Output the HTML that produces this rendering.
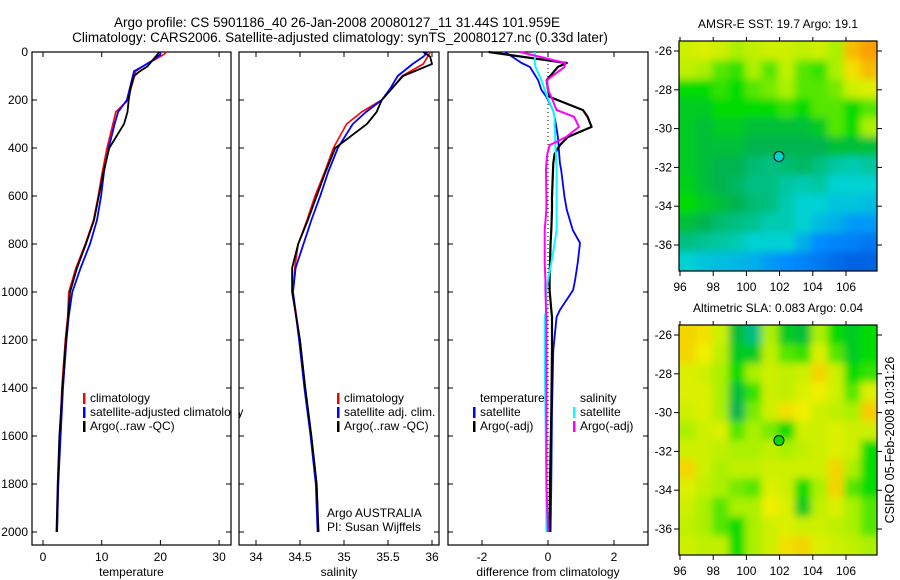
<!DOCTYPE html>
<html><head><meta charset="utf-8">
<style>
body{margin:0;background:#fff}
svg{display:block;font-family:"Liberation Sans",sans-serif}
text{fill:#000}
</style></head>
<body>
<svg id="fig" width="900" height="580" viewBox="0 0 900 580" xmlns="http://www.w3.org/2000/svg">
<defs><filter id="smooth" x="-10%" y="-10%" width="120%" height="120%"><feGaussianBlur stdDeviation="4"/></filter></defs>
<rect width="900" height="580" fill="#fff"/>
<text x="337" y="27" font-size="13.5" text-anchor="middle">Argo profile: CS 5901186_40 26-Jan-2008 20080127_11 31.44S 101.959E</text>
<text x="340" y="42" font-size="13.5" text-anchor="middle">Climatology: CARS2006. Satellite-adjusted climatology: synTS_20080127.nc (0.33d later)</text>
<g id="plots"></g>
<text transform="translate(894,440) rotate(-90)" font-size="12.5" text-anchor="middle">CSIRO 05-Feb-2008 10:31:26</text>
</svg>
<script>
// ---------- data ----------
const tDepth = [0,10,30,60,80,100,150,200,250,300,400,500,600,700,800,900,1000,1100,1200,1400,1600,1800,2000];
const tClim  = [21,20.6,19.2,17,15.8,15.6,15,14.5,12.4,11.9,10.9,10.1,9.4,8.6,7.2,5.6,4.4,4.2,3.8,3.2,2.9,2.6,2.4];
const tSat   = [20,20,19,17,15.5,15.3,14.8,14.3,12.8,12.2,11.2,10.4,9.9,9.2,8.0,6.4,5.0,4.4,4.0,3.4,3.0,2.6,2.4];
const tArgo  = [19.8,19.5,18.8,17.8,16.5,15.5,14.9,14.6,14.4,13.8,11.3,10.3,9.5,8.7,7.3,5.8,4.6,4.3,3.9,3.3,2.8,2.5,2.3];

const sDepth = [0,20,50,100,150,200,250,300,400,500,600,700,800,900,1000,1200,1400,1600,1800,2000];
const sClim  = [35.98,35.95,35.9,35.66,35.55,35.43,35.2,35.03,34.88,34.78,34.67,34.58,34.48,34.44,34.42,34.5,34.56,34.63,34.69,34.71];
const sSat   = [35.95,35.9,35.78,35.61,35.53,35.43,35.25,35.1,34.93,34.82,34.73,34.63,34.54,34.45,34.42,34.49,34.55,34.62,34.68,34.7];
const sArgo  = [35.9,35.98,36.0,35.67,35.55,35.43,35.37,35.26,34.9,34.79,34.69,34.59,34.48,34.41,34.41,34.5,34.56,34.63,34.69,34.71];

const dDepth    = [0,46,62,117,158,187,242,270,312,354,388,425,463,492,604,658,742,796,879,950,992,1075,1104,1242,1500,1800,2000];
const dTempSat  = [-1.3,-0.8,-0.55,-0.3,-0.2,-0.05,0.15,0.2,0.25,0.3,0.32,0.34,0.36,0.4,0.5,0.57,0.75,0.97,0.9,0.82,0.76,0.36,0.26,0.16,0.12,0.1,0.08];
const dTempArgo = [-1.8,0.57,0.3,-0.04,0.0,0.05,1.06,1.2,1.32,0.6,0.36,0.2,0.16,0.15,0.12,0.12,0.1,0.08,0.06,0.05,0.05,0.1,0.12,0.12,0.1,0.06,0.05];
const dSalSat   = [-0.4,-0.4,-0.38,-0.2,-0.1,-0.02,0.15,0.2,0.2,0.22,0.22,0.24,0.25,0.26,0.26,0.26,0.26,0.2,0.1,0.0,-0.05,-0.05,-0.1,-0.1,-0.08,-0.05,-0.05];
const dSalArgo  = [-0.85,0.52,0.5,-0.03,0.0,0.1,0.26,0.79,0.94,0.55,0.05,-0.02,-0.05,-0.06,-0.05,-0.05,-0.1,-0.1,-0.1,-0.08,-0.08,-0.06,-0.05,-0.05,-0.05,-0.05,0.0];

const depthTicks = [0,200,400,600,800,1000,1200,1400,1600,1800,2000];
const tTicks = [0,10,20,30];
const sTicks = [34,34.5,35,35.5,36];
const dTicks = [-2,0,2];
const lonTicks = [96,98,100,102,104,106];
const latTicks = [26,28,30,32,34,36];

const sstGrid = [
[0.6,0.62,0.6,0.55,0.58,0.6,0.6,0.58,0.6,0.55,0.75,0.8],
[0.58,0.55,0.5,0.48,0.55,0.5,0.58,0.5,0.48,0.55,0.68,0.75],
[0.45,0.45,0.48,0.45,0.5,0.52,0.55,0.5,0.5,0.52,0.6,0.62],
[0.42,0.42,0.45,0.45,0.45,0.45,0.48,0.45,0.5,0.5,0.45,0.5],
[0.42,0.4,0.42,0.42,0.4,0.4,0.4,0.4,0.42,0.5,0.45,0.55],
[0.42,0.4,0.4,0.4,0.38,0.38,0.38,0.38,0.38,0.4,0.4,0.4],
[0.42,0.4,0.38,0.38,0.36,0.35,0.36,0.37,0.35,0.33,0.32,0.33],
[0.43,0.4,0.38,0.37,0.35,0.35,0.33,0.32,0.33,0.3,0.3,0.3],
[0.45,0.42,0.4,0.38,0.36,0.35,0.32,0.3,0.3,0.28,0.28,0.27],
[0.4,0.38,0.36,0.35,0.34,0.32,0.32,0.3,0.27,0.25,0.22,0.22],
[0.35,0.34,0.33,0.32,0.3,0.3,0.3,0.25,0.2,0.18,0.17,0.15],
[0.3,0.28,0.27,0.26,0.25,0.22,0.2,0.18,0.15,0.12,0.1,0.1]];
const slaGrid = [
[.7,.68,.6,.4,.35,.55,.42,.4,.55,.45,.42,.45],
[.7,.65,.58,.42,.42,.58,.5,.48,.62,.5,.42,.45],
[.62,.6,.55,.45,.55,.6,.58,.6,.7,.6,.45,.48],
[.62,.62,.55,.4,.48,.6,.58,.62,.65,.6,.5,.62],
[.6,.62,.55,.38,.52,.6,.68,.65,.6,.58,.55,.72],
[.55,.6,.62,.5,.55,.52,.45,.6,.6,.62,.6,.6],
[.6,.6,.58,.55,.55,.58,.55,.58,.6,.62,.6,.45],
[.7,.6,.55,.58,.58,.6,.6,.6,.6,.7,.55,.45],
[.62,.58,.55,.52,.5,.62,.6,.45,.55,.7,.5,.45],
[.6,.55,.5,.55,.55,.65,.62,.42,.58,.62,.55,.5],
[.58,.55,.5,.45,.55,.6,.62,.6,.6,.58,.55,.5],
[.6,.58,.58,.45,.55,.6,.68,.7,.62,.6,.58,.55]];
const argoLon = 101.959, argoLat = 31.44;
const sstArgoVal = 0.3, slaArgoVal = 0.45;

// ---------- drawing ----------
const NS = "http://www.w3.org/2000/svg";
const root = document.getElementById('plots');
function mk(tag, attrs, parent){ const e=document.createElementNS(NS,tag); for(const k in attrs) e.setAttribute(k,attrs[k]); (parent||root).appendChild(e); return e; }
function txt(x,y,s,size,anchor,parent){ const t=mk('text',{x:x,y:y,'font-size':size||12,'text-anchor':anchor||'middle'},parent); t.textContent=s; return t; }

const yD = d => 52 + d*0.24;
function profilePanel(name, x0, x1, xs, ticks, tickFmt, xlabel){
  const g = mk('g',{});
  
  
  const box = mk('rect',{x:x0,y:52,width:x1-x0,height:493,fill:'none',stroke:'#000','stroke-width':1.2},g);
  
  
  ticks.forEach(v=>{
    const x=xs(v);
    mk('line',{x1:x,x2:x,y1:545,y2:540,stroke:'#000'},g);
    mk('line',{x1:x,x2:x,y1:52,y2:57,stroke:'#000'},g);
    const t = txt(x,561,tickFmt(v),12,'middle',g);
    
    
  });
  depthTicks.forEach(d=>{
    mk('line',{x1:x0,x2:x0+5,y1:yD(d),y2:yD(d),stroke:'#000'},g);
    mk('line',{x1:x1,x2:x1-5,y1:yD(d),y2:yD(d),stroke:'#000'},g);
  });
  const xl = txt((x0+x1)/2,576,xlabel,12,'middle',g);
  
  
  return g;
}
function line(g, xs, depths, vals, color, w, name){
  const pts = depths.map((d,i)=>xs(vals[i]).toFixed(1)+','+yD(d).toFixed(1)).join(' ');
  const p = mk('polyline',{points:pts,fill:'none',stroke:color,'stroke-width':w,'stroke-linejoin':'round'},g);
  
  
}
function legend(g, x, y, entries){
  entries.forEach((e,i)=>{
    const yy=y+i*14;
    if(e.c){ const m=mk('rect',{x:x,y:yy-9,width:2.5,height:11,fill:e.c},g);
      
       }
    const t=txt(x+7,yy,e.t,12,'start',g);
    
    
  });
}

depthTicks.forEach(d=>{
  const t=txt(28,yD(d)+4,String(d),12,'end');
  
  
});

const xT = v => 43 + v*5.87;
const g1 = profilePanel('temperature-panel',32,231,xT,tTicks,String,'temperature');
line(g1,xT,tDepth,tClim,'#f00',1.6,'temperature-climatology-line');
line(g1,xT,tDepth,tSat,'#00f',1.8,'temperature-satellite-line');
line(g1,xT,tDepth,tArgo,'#000',1.8,'temperature-argo-line');
legend(g1,83,402,[{c:'#f00',t:'climatology'},{c:'#00f',t:'satellite-adjusted climatology'},{c:'#000',t:'Argo(..raw -QC)'}]);
mk('rect',{x:231.5,y:385,width:7.5,height:50,fill:'#fff'});
mk('line',{x1:231,x2:231,y1:385,y2:435,stroke:'#000','stroke-width':1.2});

const xS = v => 256 + (v-34)*88;
const g2 = profilePanel('salinity-panel',239,439,xS,sTicks,String,'salinity');
line(g2,xS,sDepth,sClim,'#f00',1.6,'salinity-climatology-line');
line(g2,xS,sDepth,sSat,'#00f',1.8,'salinity-satellite-line');
line(g2,xS,sDepth,sArgo,'#000',1.8,'salinity-argo-line');
legend(g2,337,402,[{c:'#f00',t:'climatology'},{c:'#00f',t:'satellite adj. clim.'},{c:'#000',t:'Argo(..raw -QC)'}]);
legend(g2,320,517,[{t:'Argo AUSTRALIA'},{t:'PI: Susan Wijffels'}]);

const xDf = v => 548 + v*33;
const g3 = profilePanel('difference-panel',448,648,xDf,dTicks,String,'difference from climatology');
const zl = mk('line',{x1:xDf(0),x2:xDf(0),y1:52,y2:532,stroke:'#000','stroke-dasharray':'1,3'},g3);


line(g3,xDf,dDepth,dTempSat,'#00f',1.8,'temperature-satellite-diff-line');
line(g3,xDf,dDepth,dTempArgo,'#000',2.2,'temperature-argo-diff-line');
line(g3,xDf,dDepth,dSalSat,'#0ff',2,'salinity-satellite-diff-line');
line(g3,xDf,dDepth,dSalArgo,'#f0f',2,'salinity-argo-diff-line');
legend(g3,473,402,[{t:'temperature'},{c:'#00f',t:'satellite'},{c:'#000',t:'Argo(-adj)'}]);
legend(g3,573,402,[{t:'salinity'},{c:'#0ff',t:'satellite'},{c:'#f0f',t:'Argo(-adj)'}]);

// ---------- maps ----------
const stops=[[0,[0,60,200]],[0.2,[0,140,255]],[0.3,[0,210,210]],[0.38,[0,180,80]],[0.45,[0,220,0]],[0.55,[170,240,0]],[0.65,[240,240,0]],[0.8,[250,160,0]],[1,[230,100,0]]];
function cmap(v){
  for(let i=1;i<stops.length;i++){ if(v<=stops[i][0]){ const a=stops[i-1],b=stops[i],t=(v-a[0])/(b[0]-a[0]); return 'rgb('+a[1].map((c,k)=>Math.round(c+(b[1][k]-c)*t)).join(',')+')'; } }
  return 'rgb(230,100,0)';
}
function mapPanel(name, top, lat26y, grid, title, argoVal){
  const g=mk('g',{});
  
  
  const xL = lon => 680 + (lon-96)*16.6;
  const yL = lat => lat26y + (lat-26)*19.4;
  const lon0=95.95, lat0=(top-lat26y)/19.4+26;
  const nR=grid.length, nC=grid[0].length;
  const dLon=(877-xL(lon0))/16.6/nC, dLat=(230/19.4)/nR;
  const cid = name+'-clip';
  const cp = mk('clipPath',{id:cid},g); mk('rect',{x:679,y:top,width:198,height:230},cp);
  const outer = mk('g',{'clip-path':'url(#'+cid+')'},g);
  const cells = mk('g',{filter:'url(#smooth)'},outer);
  grid.forEach((row,r)=>row.forEach((v,c)=>{
    let x=xL(lon0+c*dLon), y=yL(lat0+r*dLat);
    let w=dLon*16.6+0.6, h=dLat*19.4+0.6;
    if(c===0){x-=15;w+=15;} if(c===nC-1){w+=15;}
    if(r===0){y-=15;h+=15;} if(r===nR-1){h+=15;}
    const cell=mk('rect',{x:x.toFixed(1),y:y.toFixed(1),width:w.toFixed(1),height:h.toFixed(1),fill:cmap(v)},cells);
    
    
  }));
  const fr=mk('rect',{x:679,y:top,width:198,height:230,fill:'none',stroke:'#000','stroke-width':1.2},g);
  
  
  lonTicks.forEach(l=>{ const x=xL(l); mk('line',{x1:x,x2:x,y1:top+230,y2:top+235,stroke:'#000'},g); mk('line',{x1:x,x2:x,y1:top,y2:top-4,stroke:'#000'},g);
    const t=txt(x,top+250,String(l),12,'middle',g);   });
  latTicks.forEach(l=>{ const y=yL(l); mk('line',{x1:679,x2:674,y1:y,y2:y,stroke:'#000'},g); mk('line',{x1:877,x2:882,y1:y,y2:y,stroke:'#000'},g);
    const t=txt(672,y+4,'-'+l,12,'end',g);   });
  const tt=txt(778,top-13,title,12,'middle',g);
  
  
  const m=mk('circle',{cx:xL(argoLon),cy:yL(argoLat),r:5,fill:cmap(argoVal),stroke:'#000','stroke-width':1},g);
  
  
}
mapPanel('sst-map',41,51,sstGrid,'AMSR-E SST: 19.7 Argo: 19.1',sstArgoVal);
mapPanel('sla-map',325,335,slaGrid,'Altimetric SLA: 0.083 Argo: 0.04',slaArgoVal);
</script>
</body></html>
